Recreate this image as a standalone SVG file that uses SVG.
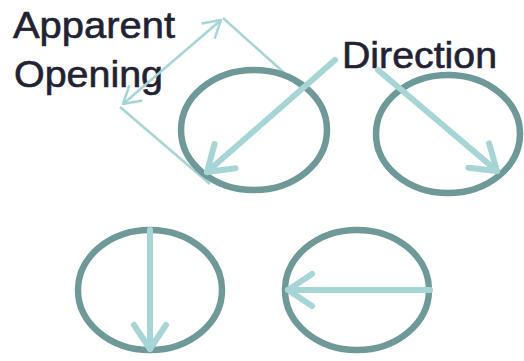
<svg xmlns="http://www.w3.org/2000/svg" width="524" height="361" viewBox="0 0 524 361">
  <style>
    .ring { fill: none; stroke: #6f9999; stroke-width: 6.5; }
    .dir { fill: none; stroke: #a7d5d6; stroke-width: 6; stroke-linecap: round; }
    .thin { fill: none; stroke: #a7d5d6; stroke-width: 2.5; }
    .label { font-family: "Liberation Sans", Arial, sans-serif; font-size: 37px; fill: #222233; stroke: #222233; stroke-width: 0.6; }
  </style>
  <defs>
    <marker id="head" markerUnits="userSpaceOnUse" markerWidth="40" markerHeight="40" viewBox="-30 -20 40 40" refX="0" refY="0" orient="auto" overflow="visible">
      <path d="M -24 -16 L 0 0 L -24 16" fill="none" stroke="#a7d5d6" stroke-width="6" stroke-linecap="round" stroke-linejoin="round"/>
    </marker>
    <marker id="thinhead" markerUnits="userSpaceOnUse" markerWidth="30" markerHeight="30" viewBox="-20 -15 30 30" refX="0" refY="0" orient="auto-start-reverse" overflow="visible">
      <path d="M -17 -10 L 0 0 L -17 10" fill="none" stroke="#a7d5d6" stroke-width="2.5" stroke-linejoin="round"/>
    </marker>
  </defs>

  <!-- labels -->
  <text class="label" x="13" y="38" textLength="162" lengthAdjust="spacingAndGlyphs">Apparent</text>
  <text class="label" x="14" y="87" textLength="149" lengthAdjust="spacingAndGlyphs">Opening</text>
  <text class="label" x="342" y="68" textLength="155" lengthAdjust="spacingAndGlyphs">Direction</text>

  <!-- apparent opening outline -->
  <g id="opening">
    <line class="thin" x1="300" y1="87" x2="223" y2="18"/>
    <line class="thin" x1="120" y1="107" x2="210" y2="184"/>
    <line class="thin" x1="123" y1="104" x2="221" y2="20" marker-start="url(#thinhead)" marker-end="url(#thinhead)"/>
  </g>

  <!-- ellipses -->
  <g id="ellipse-diag-sw">
    <ellipse class="ring" cx="254" cy="130" rx="73" ry="60"/>
  </g>
  <g id="ellipse-diag-se">
    <ellipse class="ring" cx="448" cy="134" rx="72" ry="59"/>
  </g>
  <g id="ellipse-down">
    <ellipse class="ring" cx="150" cy="290" rx="72" ry="60"/>
  </g>
  <g id="ellipse-left">
    <ellipse class="ring" cx="357" cy="290" rx="72" ry="60"/>
  </g>

  <!-- direction arrows -->
  <g id="connectors">
    <line class="dir" x1="335" y1="60" x2="207" y2="172" marker-end="url(#head)"/>
    <line class="dir" x1="378" y1="70" x2="497" y2="171" marker-end="url(#head)"/>
    <line class="dir" x1="150" y1="230" x2="150" y2="349" marker-end="url(#head)"/>
    <line class="dir" x1="430" y1="290" x2="288" y2="290" marker-end="url(#head)"/>
  </g>
</svg>
